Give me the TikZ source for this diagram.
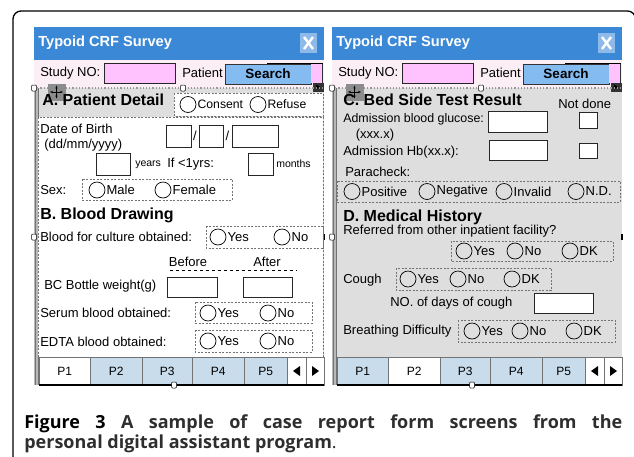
\documentclass[tikz,border=0pt]{standalone}
\usepackage{fontspec}
\newfontfamily\uifont{Liberation Sans}
\newfontfamily\capfont{Open Sans}
\usetikzlibrary{arrows.meta, positioning}
\definecolor{crfBlue}{HTML}{3A88D6}
\definecolor{closeBlue}{HTML}{8DBAE8}
\definecolor{rowPink}{HTML}{FBEFF5}
\definecolor{fieldPink}{HTML}{FFC2FF}
\definecolor{searchBlue}{HTML}{84BCF2}
\definecolor{bodyGray}{HTML}{DEDEDE}
\definecolor{crfTab}{HTML}{C9DCEB}
\definecolor{moveBlue}{HTML}{C4D4EA}
\tikzset{
  % screen shots are drawn in pixel units, y runs downwards
  every picture/.append style = {line width=0.6pt},
  ui/.style        = {font=\uifont\fontsize{13}{15}\selectfont, inner sep=0pt, anchor=west},
  uismall/.style   = {ui, font=\uifont\fontsize{10.5}{12}\selectfont},
  uihead/.style    = {ui, font=\uifont\bfseries\fontsize{16}{18}\selectfont},
  titletxt/.style  = {ui, white, font=\uifont\bfseries\fontsize{14.6}{16}\selectfont},
  field/.style     = {draw=black!85, fill=white, line width=0.8pt},
  dashbox/.style   = {draw=black!55, dash pattern=on 2pt off 1.5pt, line width=0.6pt},
  radio/.style     = {circle, draw=black, minimum size=16pt, inner sep=0pt, line width=0.7pt,
                      label={[ui, label distance=1pt]east:#1}},
  radiotight/.style = {circle, draw=black, minimum size=16pt, inner sep=0pt, line width=0.7pt,
                      label={[ui, font=\uifont\fontsize{12.2}{14}\selectfont, label distance=1pt]east:#1}},
  searchbtn/.style = {draw=black!80, fill=searchBlue, minimum width=86pt, minimum height=20pt,
                      inner sep=0pt, font=\uifont\bfseries\fontsize{13.5}{15}\selectfont},
  tabcell/.style   = {draw=black!55, minimum height=28pt, inner sep=0pt,
                      font=\uifont\fontsize{12}{14}\selectfont},
  handle/.style    = {draw=black, fill=white, rounded corners=1pt, minimum width=5pt,
                      minimum height=6pt, inner sep=0pt, line width=0.5pt},
}

\begin{document}
\begin{tikzpicture}[x=1pt, y=-1pt]
\useasboundingbox (0,0) rectangle (634,456);

% ---- outer frame ------------------------------------------------------------
\draw[line width=1.3pt, rounded corners=8pt] (13,460) -- (13,11) -- (635.5,11) -- (635.5,460);

% ---- window chrome, same for both screens -----------------------------------
\foreach \ox/\p/\sel in {34/L/1, 332/R/2}{
\begin{scope}[xshift=\ox]
  \fill[crfBlue] (0,27) rectangle (290,60);
  \fill[rowPink] (0,60) rectangle (290,88);
  \fill[bodyGray] (0,88) rectangle (290,385);
  \node[titletxt] (title\p) at (4,43) {Typoid CRF Survey};
  \fill[closeBlue] (266,33) rectangle (283,53);
  \draw[white, line width=2.4pt] (270,37) -- (279,49) (279,37) -- (270,49);
  \node[ui] (study\p) at (6,73) {Study NO:};
  \draw[field, fill=fieldPink] (70,63) rectangle (141,83);
  \node[ui] (patient\p) at (148,73) {Patient};
  \node[searchbtn] (search\p) at (234,74) {Search};
  \fill[fieldPink] (277,63) rectangle (288,83);
  \draw[black!80] (288,63) -- (288,83);
  \draw[line width=1.4pt] (233,63.5) -- (288.5,63.5);
  \draw[fill=white, black!80] (279,83) rectangle (289,91);
  \fill (282,84.5) -- (286,87) -- (282,89.5) -- cycle;
  % dotted separator and handles
  \draw[black!40, dotted, line width=1.2pt] (0,88) -- (290,88);
  \fill[black!28] (0,88) rectangle (5,385);
  \draw[black!55] (1.5,88) -- (1.5,385) (4.5,88) -- (4.5,385);
  \node[handle] (hdlA\p) at (0,88) {};
  \node[handle] (hdlB\p) at (149,88) {};
  \node[handle] (hdlC\p) at (0,237) {};
  \draw[line width=1.5pt] (290,234) -- (290,240);
  % move icon
  \draw[fill=moveBlue, black!45] (14,84) rectangle (31,100);
  \draw[{Stealth[length=3pt]}-{Stealth[length=3pt]}, line width=0.8pt] (16,92) -- (29,92);
  \draw[{Stealth[length=3pt]}-{Stealth[length=3pt]}, line width=0.8pt] (22.5,85.5) -- (22.5,98.5);
  % page tabs
  \foreach \a/\b/\t [count=\i] in {5/56/P1, 56/108/P2, 108/158/P3, 158/210/P4, 210/253/P5}{
    \ifnum\i=\sel\relax \def\tfill{white}\else\def\tfill{crfTab}\fi
    \node[tabcell, fill=\tfill, minimum width={\b-\a}, anchor=north west] (tab\p\i) at (\a,357) {\t};
  }
  \node[tabcell, fill=white, minimum width=19pt, anchor=north west] (prev\p) at (253,357) {};
  \node[tabcell, fill=white, minimum width=18pt, anchor=north west] (next\p) at (272,357) {};
  \fill (259,371) -- (266,366) -- (266,376) -- cycle;
  \fill (285,371) -- (278,366) -- (278,376) -- cycle;
  \draw[line width=1.2pt] (5,385) -- (290,385);
  \node[handle] (hdlD\p) at (140,385) {};
\end{scope}
}

% ---- left screen: A. Patient Detail, B. Blood Drawing -----------------------
\draw[dashbox, fill=white] (38,117) rectangle (323,357);
\node[uihead] (secA) at (42,100) {A. Patient Detail};
\draw[dashbox, fill=white] (174,93) rectangle (323,116);
\node[radiotight=Consent] (rConsent) at (188,104.5) {};
\node[radiotight=Refuse] (rRefuse) at (258,104.5) {};

\node[ui] (dob) at (40,129) {Date of Birth};
\node[ui] (dobfmt) at (44,145) {(dd/mm/yyyy)};
\draw[field] (166,125) rectangle (191,147);
\draw[field] (199,125) rectangle (223,147);
\draw[field] (232,125) rectangle (278,147);
\node[ui, anchor=center] (sl1) at (195,136) {/};
\node[ui, anchor=center] (sl2) at (227.5,136) {/};
\draw[field] (96,153) rectangle (130,175);
\node[uismall] (yrs) at (135,165) {years};
\node[ui] (lt1) at (167,164) {If <1yrs:};
\draw[field] (248,153) rectangle (273,175);
\node[uismall] (mths) at (276,164) {months};

\node[ui] (sex) at (40,190) {Sex:};
\draw[dashbox] (82,179) rectangle (232,200);
\node[radio=Male] (rMale) at (97,190) {};
\node[radio=Female] (rFemale) at (163,190) {};

\node[uihead] (secB) at (40,215) {B. Blood Drawing};
\node[ui] (culture) at (40,237) {Blood for culture obtained:};
\draw[dashbox] (206,226) rectangle (323,248);
\node[radio=Yes] (rCultY) at (218,237) {};
\node[radio=No] (rCultN) at (282,237) {};

\node[ui, anchor=center] (before) at (188,262) {Before};
\node[ui, anchor=center] (after) at (267,262) {After};
\draw[dashed, line width=0.8pt] (170,270) -- (297,270);
\node[ui] (bcw) at (44,286) {BC Bottle weight(g)};
\draw[field] (167,277) rectangle (217,297);
\draw[field] (243,277) rectangle (292,297);

\node[ui] (serum) at (40,313) {Serum blood obtained:};
\draw[dashbox] (195,302) rectangle (312,323);
\node[radio=Yes] (rSerY) at (208,313) {};
\node[radio=No] (rSerN) at (268,313) {};
\node[ui] (edta) at (40,342) {EDTA blood obtained:};
\draw[dashbox] (195,330) rectangle (312,352);
\node[radio=Yes] (rEdtaY) at (208,341) {};
\node[radio=No] (rEdtaN) at (268,341) {};

% ---- right screen: C. Bed Side Test Result, D. Medical History --------------
\node[uihead] (secC) at (343,100) {C. Bed Side Test Result};
\node[ui] (notdone) at (558,104) {Not done};
\node[ui, font=\uifont\fontsize{12.4}{14}\selectfont] (gluc) at (343,119) {Admission blood glucose:};
\draw[field] (488,111) rectangle (547,132);
\draw[field] (579,112) rectangle (597,128);
\node[ui, anchor=center] (glucfmt) at (375,135) {(xxx.x)};
\node[ui] (hb) at (343,152) {Admission Hb(xx.x):};
\draw[field] (489,140) rectangle (547,160);
\draw[field] (579,143) rectangle (597,158);
\node[ui] (para) at (345,172) {Paracheck:};
\draw[dashbox] (337,181) rectangle (620,202);
\node[radio=Positive] (rPos) at (352,191.5) {};
\node[radio=Negative] (rNeg) at (427,191.5) {};
\node[radio=Invalid] (rInv) at (504,191.5) {};
\node[radio=N.D.] (rND) at (576,191.5) {};

\node[uihead] (secD) at (343,217) {D. Medical History};
\node[ui] (referred) at (343,231) {Referred from other inpatient facility?};
\draw[dashbox] (451,241) rectangle (613,261);
\node[radio=Yes] (rRefY) at (464,251) {};
\node[radio=No] (rRefN) at (515,251) {};
\node[radio=DK] (rRefK) at (570,251) {};
\node[ui] (cough) at (343,280) {Cough};
\draw[dashbox] (396,268) rectangle (551,290);
\node[radio=Yes] (rCouY) at (408,279) {};
\node[radio=No] (rCouN) at (458,279) {};
\node[radio=DK] (rCouK) at (512,279) {};
\node[ui] (days) at (390,303) {NO. of days of cough};
\draw[field] (534,293) rectangle (593,313);
\node[ui] (breath) at (343,331) {Breathing Difficulty};
\draw[dashbox] (458,320) rectangle (615,342);
\node[radio=Yes] (rBrY) at (472,331) {};
\node[radio=No] (rBrN) at (520,331) {};
\node[radio=DK] (rBrK) at (574,331) {};

% ---- caption ----------------------------------------------------------------
\node[anchor=north west, inner sep=0pt, text width=598pt, align=justify, text=black!82,
      font=\capfont\fontsize{18}{20}\selectfont] (caption) at (24,414)
  {\textbf{\textcolor{black}{Figure 3} A sample of case report form screens from the}\linebreak
   \textbf{personal digital assistant program}.};
\end{tikzpicture}
\end{document}
